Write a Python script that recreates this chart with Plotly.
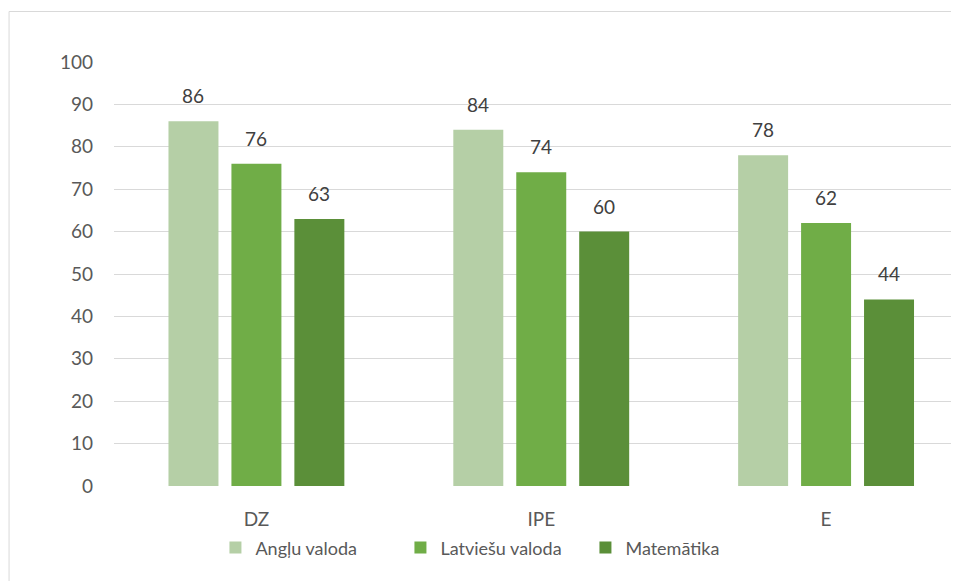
import plotly.graph_objects as go

categories = ["DZ", "IPE", "E"]
series_names = ["Angļu valoda", "Latviešu valoda", "Matemātika"]
angļu = [86, 84, 78]
latviesu = [76, 74, 62]
matematika = [63, 60, 44]
series_values = [angļu, latviesu, matematika]
colors = ["#B5CFA6", "#70AD47", "#5B8F39"]

FONT = "Lato, 'Open Sans', sans-serif"

fig = go.Figure()
for name, vals, col in zip(series_names, series_values, colors):
    fig.add_trace(go.Bar(x=categories, y=vals, name=name, marker_color=col,
                         marker_line_width=0))

# data labels
offsets = [-0.221, 0.0, 0.221]
for off, vals in zip(offsets, series_values):
    for i, v in enumerate(vals):
        fig.add_annotation(x=i + off, y=v, xref="x", yref="y", text=str(v),
                           showarrow=False, yanchor="bottom", yshift=12,
                           font=dict(family=FONT, size=19, color="#404040"))

# page body has an 8px margin; figure coordinates are page minus 8
OFF = 8
W, H = 959 - OFF, 581 - OFF
L, R_px, T, B_px = 113.5 - OFF, 959 - OFF, 62 - OFF, 486 - OFF
fig.update_layout(
    width=W, height=H,
    margin=dict(l=L, r=0, t=T, b=H - B_px, pad=0),
    paper_bgcolor="white", plot_bgcolor="white",
    barmode="group", bargap=0.337, bargroupgap=0.206,
    font=dict(family=FONT, size=19, color="#595959"),
    showlegend=True,
    legend=dict(orientation="h", x=(215 - OFF - L) / (R_px - L), xanchor="left",
                y=-0.146, yanchor="middle",
                font=dict(family=FONT, size=18, color="#595959"),
                itemwidth=30, tracegroupgap=0,
                entrywidth=140, entrywidthmode="pixels"),
    xaxis=dict(type="category", range=[-0.5, -0.5 + (R_px - L) / 285.0],
               showgrid=False, zeroline=False, showline=False, ticks="",
               ticklabelstandoff=20, tickfont=dict(size=19, color="#595959")),
    yaxis=dict(range=[0, 100], dtick=10, showgrid=True, gridcolor="#D9D9D9", gridwidth=1,
               zeroline=False, showline=False, ticks="", ticklabelstandoff=20,
               tickfont=dict(size=19, color="#595959")),
)

# chart border
fig.add_shape(type="rect", xref="paper", yref="paper",
              x0=(0.5 - L) / (R_px - L), x1=1.05,
              y0=-0.4, y1=(B_px - 3.5) / (B_px - T),
              line=dict(color="#D9D9D9", width=1), fillcolor="rgba(0,0,0,0)", layer="below")

fig.write_html("out.html")
